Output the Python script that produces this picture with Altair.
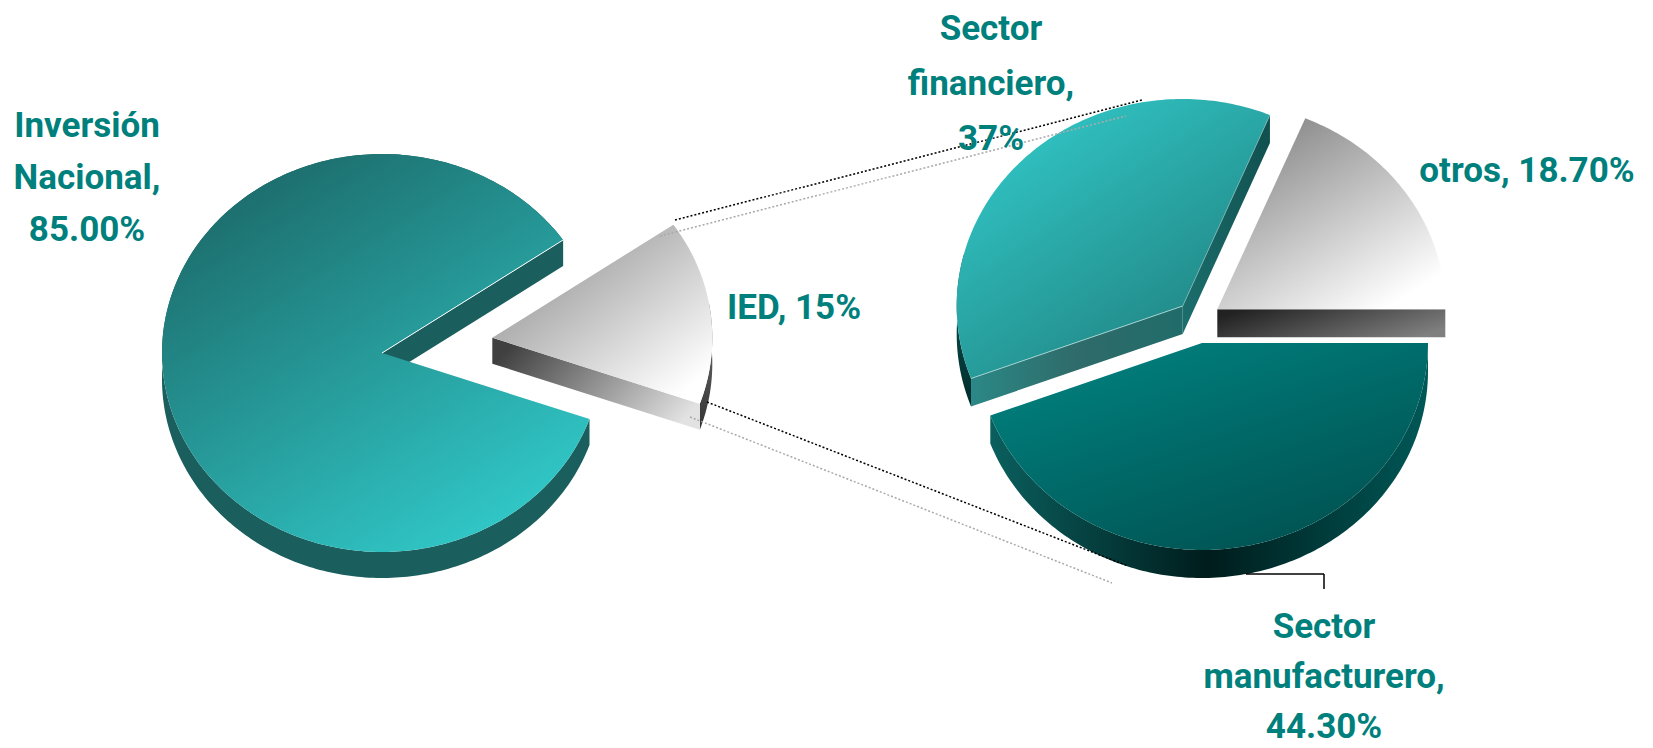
import math
import altair as alt
import pandas as pd

# ---- values ----
main_categories = ["Inversión Nacional", "IED"]
main_shares = [85.0, 15.0]
detail_categories = ["otros", "Sector manufacturero", "Sector financiero"]
detail_shares = [18.7, 44.3, 37.0]

W, H = 1637, 740
OFF = 8
TEAL = "#00807C"
FONT = "Roboto"


def grad(stops, x1=0.0, y1=0.0, x2=1.0, y2=1.0):
    n = len(stops) - 1
    return alt.LinearGradient(
        gradient="linear", x1=x1, y1=y1, x2=x2, y2=y2,
        stops=[alt.GradientStop(offset=i / n, color=c) for i, c in enumerate(stops)],
    )


X = alt.X("x:Q", axis=None, scale=alt.Scale(domain=[OFF, OFF + W], range=[0, W]))
Y = alt.Y("y:Q", axis=None, scale=alt.Scale(domain=[OFF, OFF + H], range=[0, H]))


def poly(points, fill):
    df = pd.DataFrame(points, columns=["x", "y"])
    df["i"] = range(len(df))
    return alt.Chart(df).mark_line(fill=fill, stroke=None, strokeWidth=0, interpolate="linear").encode(
        x=X, y=Y, order="i:Q"
    )


def pt(cx, cy, rx, ry, deg, dz=0):
    a = math.radians(deg)
    return (cx + rx * math.sin(a), cy - ry * math.cos(a) + dz)


def arc(cx, cy, rx, ry, a0, a1, dz=0):
    n = max(2, int(abs(a1 - a0)))
    return [pt(cx, cy, rx, ry, a0 + (a1 - a0) * k / n, dz) for k in range(n + 1)]


def face(g, a0, a1, fill):
    cx, cy, rx, ry, _ = g
    return poly([(cx, cy)] + arc(cx, cy, rx, ry, a0, a1), fill)


def band(g, a0, a1, fill):
    cx, cy, rx, ry, d = g
    return poly(arc(cx, cy, rx, ry, a0, a1) + arc(cx, cy, rx, ry, a1, a0, d), fill)


def wall(g, a, fill):
    cx, cy, rx, ry, d = g
    p = pt(cx, cy, rx, ry, a)
    return poly([(cx, cy), p, (p[0], p[1] + d), (cx, cy + d)], fill)


def edge(g, a, color, width=1.0):
    cx, cy, rx, ry, _ = g
    p = pt(cx, cy, rx, ry, a)
    df = pd.DataFrame([(cx, cy), p], columns=["x", "y"])
    df["i"] = range(2)
    return alt.Chart(df).mark_line(color=color, strokeWidth=width).encode(x=X, y=Y, order="i:Q")


def connector(x1, y1, x2, y2, color, dash=None, width=1.5):
    kw = {"strokeDash": dash} if dash else {}
    return alt.Chart(pd.DataFrame({"k": [0]})).mark_rule(color=color, strokeWidth=width, **kw).encode(
        x=alt.value(x1 - OFF), y=alt.value(y1 - OFF), x2=alt.value(x2 - OFF), y2=alt.value(y2 - OFF)
    )


def label(lines, cx, first_baseline, pitch=52.5, size=35):
    out = []
    for i, line in enumerate(lines):
        out.append(
            alt.Chart(pd.DataFrame({"t": [line]})).mark_text(
                font=FONT, fontSize=size, fontWeight="bold", color=TEAL, align="center", baseline="alphabetic"
            ).encode(text="t:N", x=alt.value(cx - OFF), y=alt.value(first_baseline + i * pitch - OFF))
        )
    return out


# angles follow the shares; only the rotation of each pie is layout
ied_start = 55.4
ied_end = ied_start + main_shares[1] * 3.6
otros_start = 22.7
otros_end = otros_start + detail_shares[0] * 3.6
manu_end = otros_end + detail_shares[1] * 3.6
fin_end = manu_end + detail_shares[2] * 3.6

G_NAC = (382, 353, 220, 199, 26)
G_IED = (492.3, 337.7, 220, 199, 26)
G_OTR = (1217.3, 309.3, 228, 207, 28)
G_MAN = (1202, 343, 226, 207, 28)
G_FIN = (1182.7, 306, 226, 207, 28)

layers = [
    # Inversión Nacional
    band(G_NAC, ied_end, ied_start + 360, "#1A5F5D"),
    wall(G_NAC, ied_start, "#1A5F5D"),
    face(G_NAC, ied_end, ied_start + 360, grad(["#1C6C6B", "#31C8C8"], 0.2, 0.05, 0.8, 0.95)),
    edge(G_NAC, ied_start, "#FFFFFF"),
    # IED
    band(G_IED, 80, ied_end, grad(["#333333", "#777777"], 0, 1, 0, 0)),
    wall(G_IED, ied_end, grad(["#404040", "#E2E2E2"], 0, 0.3, 1, 0.7)),
    face(G_IED, ied_start, ied_end, grad(["#8C8C8C", "#FFFFFF"], 0.1, 0.05, 0.9, 0.9)),
    # manufacturero
    band(G_MAN, otros_end, manu_end, grad(["#0A5F5E", "#001C1C", "#005857"], 0, 0.5, 1, 0.5)),
    face(G_MAN, otros_end, manu_end, grad(["#008280", "#004F4E"], 0.15, 0, 0.85, 1)),
    # financiero
    band(G_FIN, manu_end, 285, grad(["#012C2C", "#0F5A5A"], 0, 1, 0, 0)),
    wall(G_FIN, manu_end, grad(["#2B8886", "#2F6B6A", "#206C6A"], 0, 0.5, 1, 0.5)),
    wall(G_FIN, otros_start, grad(["#1B6F6D", "#104F4E"], 0, 1, 1, 0)),
    face(G_FIN, manu_end, fin_end, grad(["#33CCCC", "#1E7C7A"], 0.1, 0, 0.85, 1)),
    edge(G_FIN, manu_end, "#9FD0CF"),
    edge(G_FIN, otros_start, "#7FB5B4", 0.8),
    # otros
    wall(G_OTR, otros_end, grad(["#222222", "#7F7F7F"], 0, 0.3, 1, 0.7)),
    face(G_OTR, otros_start, otros_end, grad(["#858585", "#FFFFFF"], 0.15, 0.05, 0.8, 0.95)),
    # connectors
    connector(675, 220, 1142, 100, "#000000", [2, 2]),
    connector(660, 236, 1126, 116, "#AAAAAA", [2, 2]),
    connector(707, 402, 1128, 566, "#000000", [2, 2]),
    connector(690, 417, 1112, 583, "#AAAAAA", [2, 2]),
    connector(1246, 574, 1324, 574, "#000000", None, 1.5),
    connector(1324, 574, 1324, 589, "#000000", None, 1.5),
]

layers += label(["Inversión", "Nacional,", f"{main_shares[0]:.2f}%"], 87, 137, 52)
layers += label([f"IED, {main_shares[1]:.0f}%"], 794, 319)
layers += label(["Sector", "financiero,", f"{detail_shares[2]:.0f}%"], 991, 40, 55)
layers += label([f"otros, {detail_shares[0]:.2f}%"], 1527, 182)
layers += label(["Sector", "manufacturero,", f"{detail_shares[1]:.2f}%"], 1324, 638, 50)

chart = alt.layer(*layers).properties(width=W, height=H, padding=0, autosize=alt.AutoSizeParams(type="none")).configure_view(stroke=None)
chart.save("out.html", embed_options={"renderer": "svg", "actions": False})
